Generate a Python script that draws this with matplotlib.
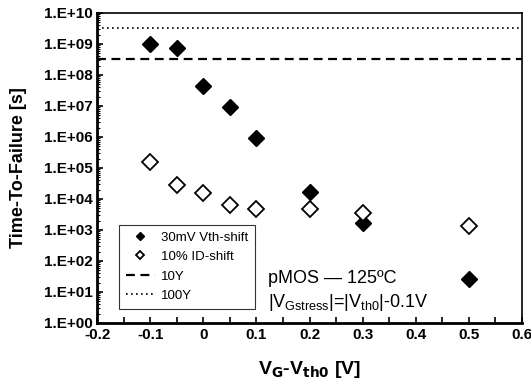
import numpy as np
import matplotlib
matplotlib.use("Agg")
import matplotlib.pyplot as plt
from matplotlib.ticker import FixedLocator, FuncFormatter, LogLocator, MultipleLocator

plt.rcParams['font.family'] = ['Liberation Sans', 'DejaVu Sans']

# gate overdrive during stress [V]
vg_vth = [-0.1, -0.05, 0.0, 0.05, 0.1, 0.2, 0.3, 0.5]
# time to failure [s]
ttf_vth = [1.0e9, 7.6e8, 4.5e7, 9.0e6, 9.0e5, 1.7e4, 1.7e3, 2.6e1]
ttf_id = [1.6e5, 2.9e4, 1.6e4, 6.5e3, 4.7e3, 4.8e3, 3.6e3, 1.35e3]

year_s = 3.15e7
lifetimes = [10 * year_s, 100 * year_s]

fig = plt.figure(figsize=(5.31, 3.80), dpi=100)
ax = fig.add_axes([0.183, 0.150, 0.800, 0.816])

ax.plot(vg_vth, ttf_vth, linestyle="none", marker="D", ms=8,
        mfc="black", mec="black", label="30mV Vth-shift")
ax.plot(vg_vth, ttf_id, linestyle="none", marker="D", ms=8,
        mfc="white", mec="black", mew=1.3, label="10% ID-shift")
ax.axhline(lifetimes[0], color="black", ls=(0, (4, 2.5)), lw=1.6, label="10Y")
ax.axhline(lifetimes[1], color="black", ls=(0, (1, 2)), lw=1.2, label="100Y")

ax.set_yscale("log")
ax.set_xlim(-0.2, 0.6)
ax.set_ylim(1, 1e10)

ax.xaxis.set_major_locator(MultipleLocator(0.1))
ax.xaxis.set_minor_locator(MultipleLocator(0.05))
ax.xaxis.set_major_formatter(FuncFormatter(lambda v, p: "0" if abs(v) < 1e-9 else f"{v:.1f}"))
ax.yaxis.set_major_locator(FixedLocator([10.0 ** k for k in range(11)]))
ax.yaxis.set_minor_locator(LogLocator(base=10, subs=np.arange(2, 10), numticks=20))
ax.yaxis.set_major_formatter(FuncFormatter(lambda v, p: f"1.E+{int(round(np.log10(v))):02d}"))

ax.tick_params(axis="both", which="both", direction="in", top=False, right=False)
ax.tick_params(axis="x", which="both", length=4, width=1.2)
ax.tick_params(axis="y", which="major", length=4, width=1.2)
ax.tick_params(axis="y", which="minor", length=2.5, width=0.8)
ax.tick_params(labelsize=11)
for lab in ax.get_xticklabels() + ax.get_yticklabels():
    lab.set_fontweight("bold")

ax.spines["left"].set_linewidth(2.0)
ax.spines["bottom"].set_linewidth(2.0)
ax.spines["top"].set_linewidth(1.2)
ax.spines["right"].set_linewidth(1.2)

ax.set_xlabel(r"V$_\mathbf{G}$-V$_\mathbf{th0}$ [V]", fontsize=14, fontweight="bold", labelpad=12)
ax.set_ylabel("Time-To-Failure [s]", fontsize=13, fontweight="bold", labelpad=12)

leg = ax.legend(loc="lower left", bbox_to_anchor=(0.036, 0.025), fontsize=9.5,
                frameon=True, fancybox=False, edgecolor="black", markerscale=0.45,
                handlelength=2.2, borderpad=0.5, labelspacing=0.55, handletextpad=0.5)
leg.get_frame().set_linewidth(0.8)

ax.text(0.402, 0.13, "pMOS — 125ºC", transform=ax.transAxes, fontsize=13)
ax.text(0.402, 0.053, r"|V$_\mathregular{Gstress}$|=|V$_\mathregular{th0}$|-0.1V",
        transform=ax.transAxes, fontsize=13)

fig.savefig("out.png", dpi=100)
